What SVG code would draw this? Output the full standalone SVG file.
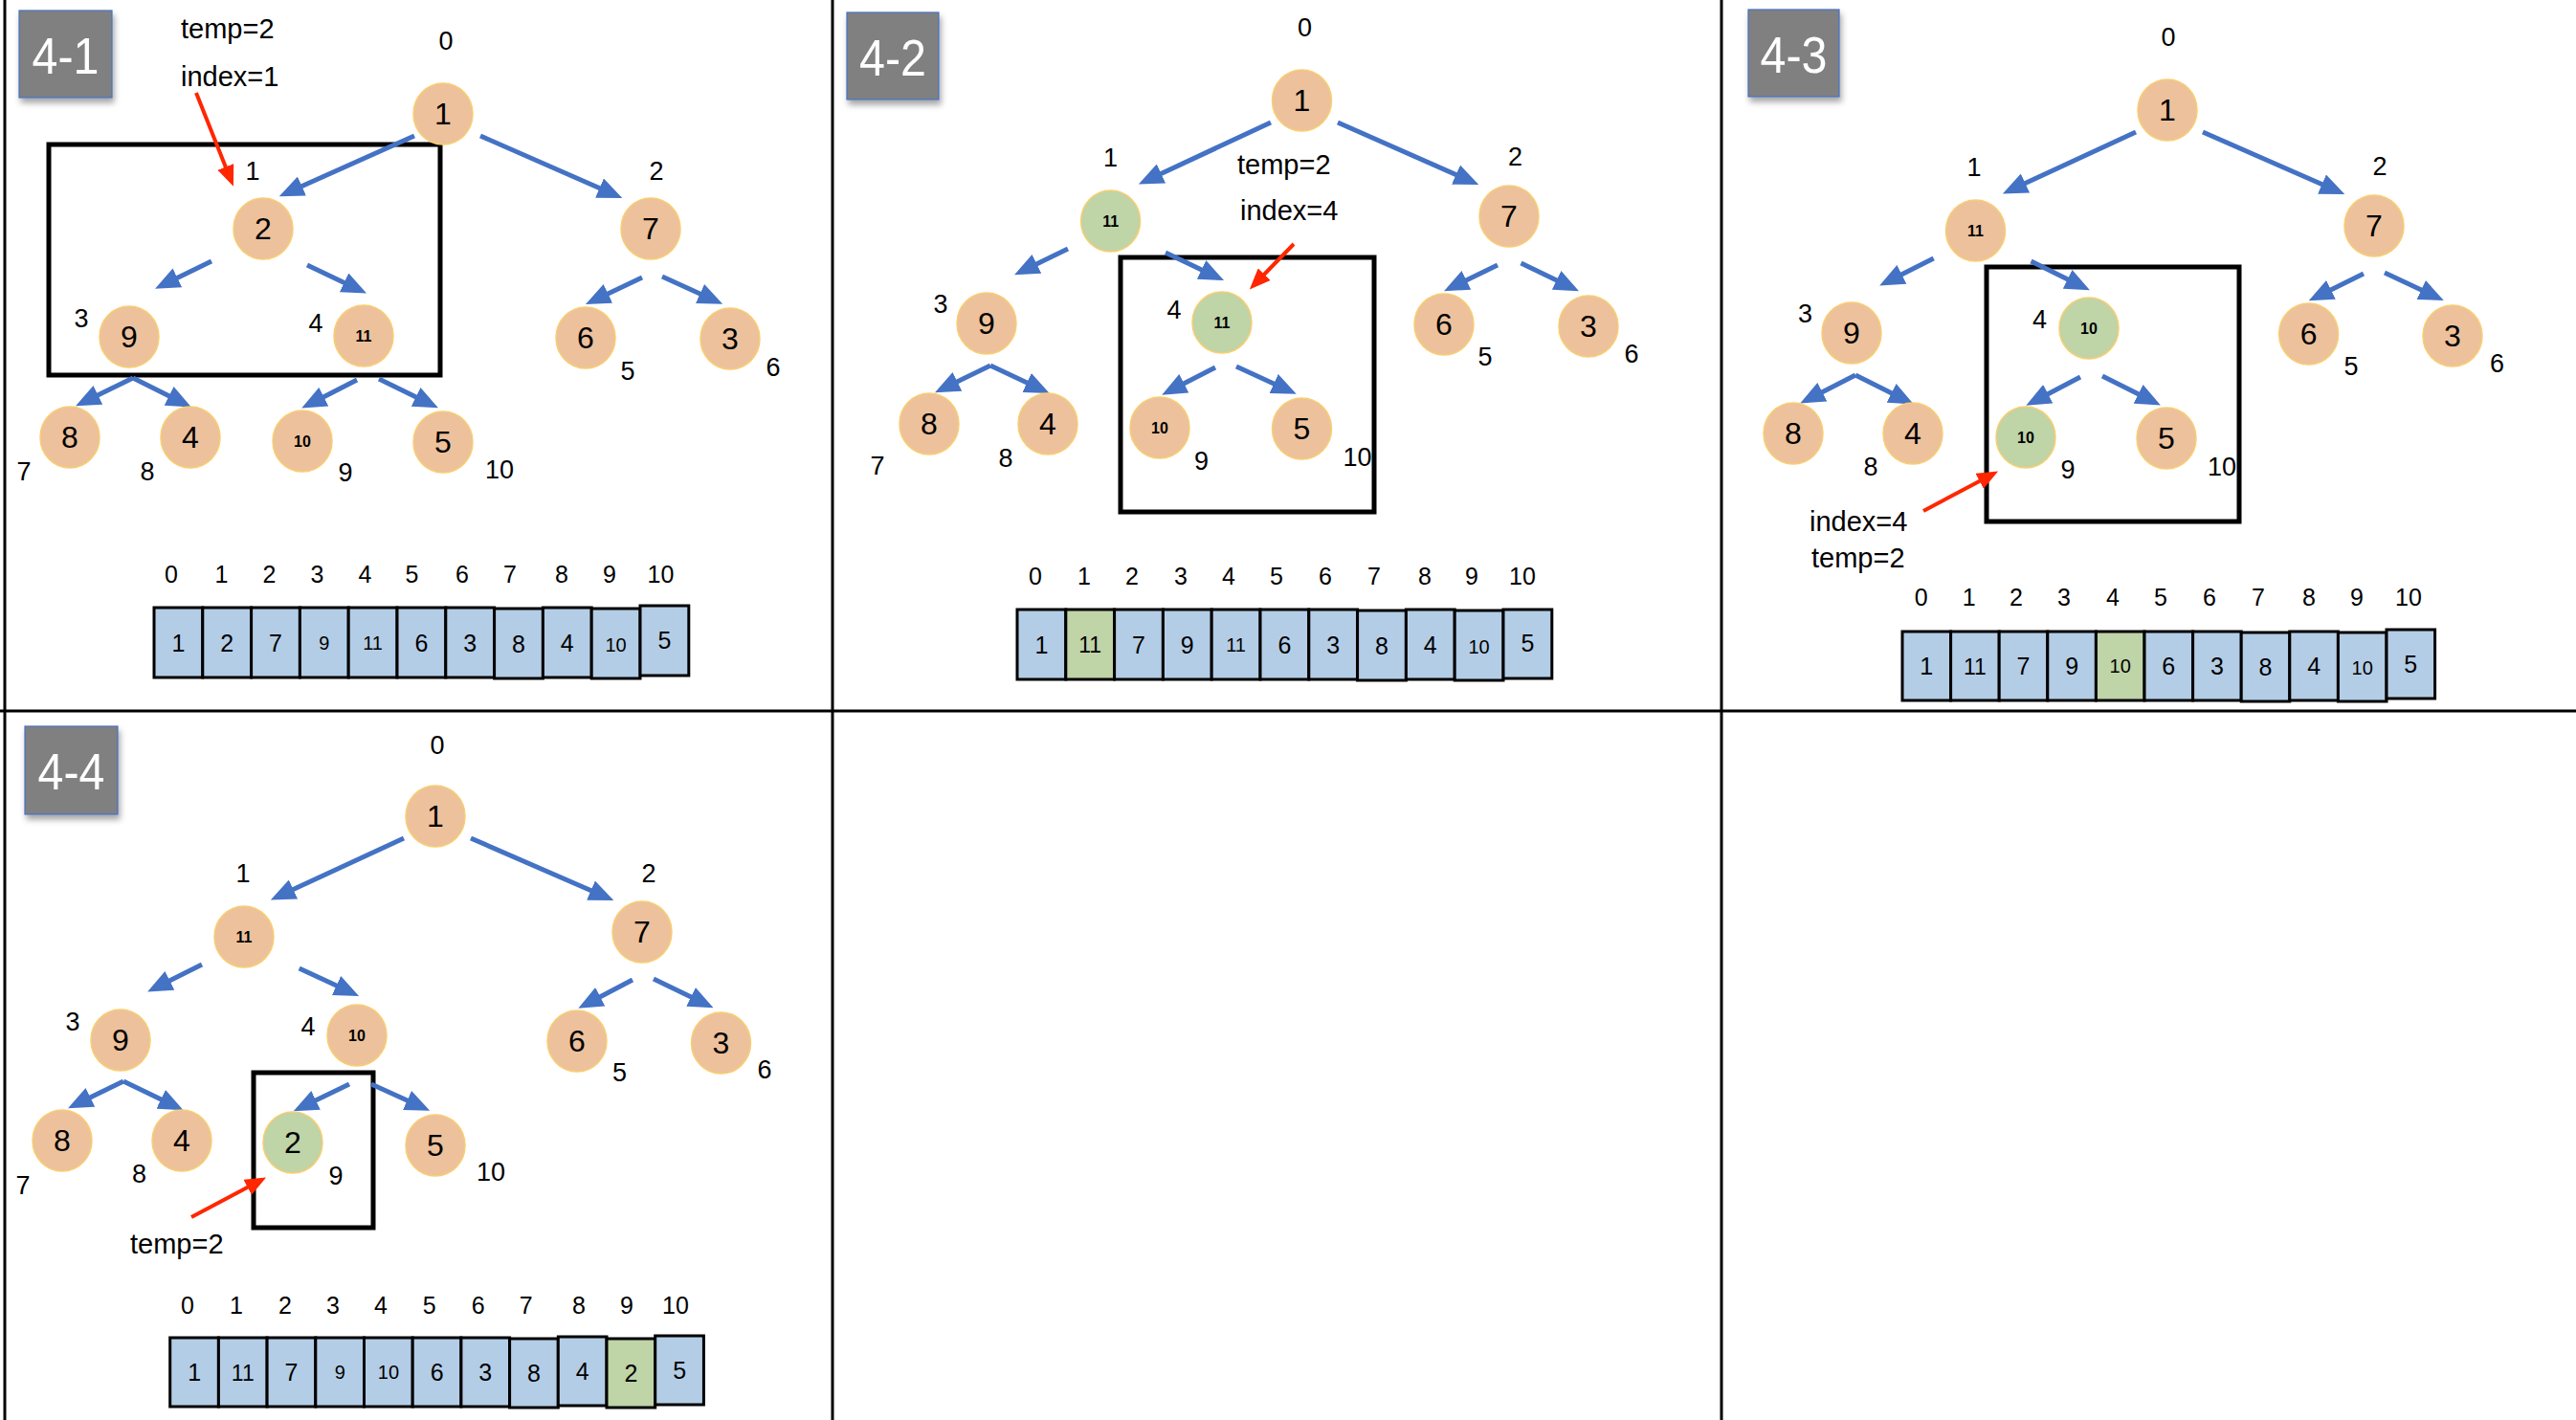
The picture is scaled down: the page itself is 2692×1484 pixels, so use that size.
<svg xmlns="http://www.w3.org/2000/svg" width="2692" height="1484" viewBox="0 0 2692 1484">
<style>
text{font-family:"Liberation Sans",Arial,Helvetica,sans-serif;fill:#000}
.grid line{stroke:#000;stroke-width:3}
.hl{fill:none;stroke:#000;stroke-width:5}
.tb rect{fill:#808080;stroke:#4472C4;stroke-width:1.2}
.tb text{fill:#fff;font-size:54px;text-anchor:middle}
.node ellipse{fill:#EDC19C;stroke:#F8CE72;stroke-width:1.5}
.node.g ellipse{fill:#BFD4A7}
.node text{text-anchor:middle;font-size:32px}
.node text.s{font-size:16px;font-weight:bold}
.lbl{font-size:27px;text-anchor:middle}
.note{font-size:29px}
.ai{font-size:25px;text-anchor:middle}
.cell rect{fill:#B4CDE6;stroke:#000;stroke-width:3}
.cell.g rect{fill:#BFD4A7}
.cell text{text-anchor:middle;font-size:25px}
.cell text.s{font-size:20px}
.cell text.m{font-size:23px}
.b{stroke:#4472C4;stroke-width:5;fill:none;marker-end:url(#ab)}
.r{stroke:#FF2600;stroke-width:4;fill:none;marker-end:url(#ar)}
</style>
<defs>
<marker id="ab" viewBox="0 0 26 22" refX="6" refY="11" markerWidth="26" markerHeight="22" markerUnits="userSpaceOnUse" orient="auto"><path d="M0,0 L26,11 L0,22 z" fill="#4472C4"/></marker>
<marker id="ar" viewBox="0 0 22 18" refX="6" refY="9" markerWidth="22" markerHeight="18" markerUnits="userSpaceOnUse" orient="auto"><path d="M0,0 L22,9 L0,18 z" fill="#FF2600"/></marker>
<filter id="sh" x="-20%" y="-20%" width="150%" height="150%"><feDropShadow dx="2" dy="5" stdDeviation="3" flood-color="#000" flood-opacity="0.35"/></filter>
</defs>
<rect x="0" y="0" width="2692" height="1484" fill="#fff"/>
<g class="grid">
<line x1="5" y1="0" x2="5" y2="1484"/>
<line x1="870" y1="0" x2="870" y2="1484"/>
<line x1="1799" y1="0" x2="1799" y2="1484"/>
<line x1="0" y1="743" x2="2692" y2="743"/>
</g>
<g id="titles">
<g class="tb" id="t41"><rect x="20" y="11" width="97" height="91" filter="url(#sh)"/><text x="68.5" y="77" textLength="70" lengthAdjust="spacingAndGlyphs">4-1</text></g>
<g class="tb" id="t42"><rect x="885" y="13" width="96" height="91" filter="url(#sh)"/><text x="933" y="79" textLength="70" lengthAdjust="spacingAndGlyphs">4-2</text></g>
<g class="tb" id="t43"><rect x="1827" y="10" width="95" height="91" filter="url(#sh)"/><text x="1874.5" y="76" textLength="70" lengthAdjust="spacingAndGlyphs">4-3</text></g>
<g class="tb" id="t44"><rect x="26" y="759" width="97" height="92" filter="url(#sh)"/><text x="74.5" y="825" textLength="70" lengthAdjust="spacingAndGlyphs">4-4</text></g>
</g>
<g id="highlights">
<rect class="hl" x="51" y="151" width="409" height="241"/>
<rect class="hl" x="1171" y="269" width="265" height="266"/>
<rect class="hl" x="2076" y="279" width="264" height="266"/>
<rect class="hl" x="265" y="1121" width="125" height="162"/>
</g>
<g id="connectors">
<path class="b" d="M433,142 L310,197"/>
<path class="b" d="M502,142 L632,199"/>
<path class="b" d="M221,273 L180,293"/>
<path class="b" d="M321,277 L365,298"/>
<path class="b" d="M671,290 L630,309.5"/>
<path class="b" d="M692,289 L737,309.5"/>
<path class="b" d="M139,395 L97,415.5"/>
<path class="b" d="M139,395 L182,416.5"/>
<path class="b" d="M373,397 L333,417.5"/>
<path class="b" d="M396,396 L440,417.5"/>

<path class="b" d="M1328,128 L1208,184"/>
<path class="b" d="M1398,128 L1527,185"/>
<path class="b" d="M1116,260 L1078,278.5"/>
<path class="b" d="M1218,264 L1261,284.5"/>
<path class="b" d="M1565,277 L1527,295.5"/>
<path class="b" d="M1589.5,275 L1632,295.5"/>
<path class="b" d="M1035,382 L995,401.5"/>
<path class="b" d="M1035,382 L1078.6,402.5"/>
<path class="b" d="M1270,384 L1232,403.5"/>
<path class="b" d="M1292,383 L1336.6,403.5"/>

<path class="b" d="M2232,138 L2111,194"/>
<path class="b" d="M2302,138 L2432,195"/>
<path class="b" d="M2020.7,270 L1982,289.5"/>
<path class="b" d="M2122.5,273 L2166,294.5"/>
<path class="b" d="M2470,286 L2430.6,305.5"/>
<path class="b" d="M2492,285 L2535.7,305.5"/>
<path class="b" d="M1939,392 L1899,412.5"/>
<path class="b" d="M1939,392 L1982,413.5"/>
<path class="b" d="M2174,394 L2135,414.5"/>
<path class="b" d="M2197,393 L2240,414.5"/>

<path class="b" d="M422,876 L301,932"/>
<path class="b" d="M492,876 L623,933"/>
<path class="b" d="M211,1008 L172,1027.5"/>
<path class="b" d="M312.7,1012 L357,1032.5"/>
<path class="b" d="M661,1024 L622,1044.5"/>
<path class="b" d="M683,1023 L727.5,1044.5"/>
<path class="b" d="M129,1130 L89,1149.5"/>
<path class="b" d="M129,1130 L173.6,1151.5"/>
<path class="b" d="M365,1133 L324.7,1152.5"/>
<path class="b" d="M388,1133 L431,1152.5"/>

<path class="r" d="M205,97 L238,180"/>
<path class="r" d="M1352,255 L1317,291"/>
<path class="r" d="M2010,534 L2074,500"/>
<path class="r" d="M200,1272 L264,1238"/>
</g>
<g id="nodes41">
<g class="node" id="n41-0"><ellipse cx="463" cy="119" rx="31" ry="32"/><text x="463" y="130">1</text></g>
<g class="node" id="n41-1"><ellipse cx="275" cy="239" rx="31" ry="32"/><text x="275" y="250">2</text></g>
<g class="node" id="n41-2"><ellipse cx="680" cy="239" rx="31" ry="32"/><text x="680" y="250">7</text></g>
<g class="node" id="n41-3"><ellipse cx="135" cy="352" rx="31" ry="32"/><text x="135" y="363">9</text></g>
<g class="node" id="n41-4"><ellipse cx="380" cy="351" rx="31" ry="32"/><text class="s" x="380" y="357">11</text></g>
<g class="node" id="n41-5"><ellipse cx="612" cy="353" rx="31" ry="32"/><text x="612" y="364">6</text></g>
<g class="node" id="n41-6"><ellipse cx="763" cy="354" rx="31" ry="32"/><text x="763" y="365">3</text></g>
<g class="node" id="n41-7"><ellipse cx="73" cy="457" rx="31" ry="32"/><text x="73" y="468">8</text></g>
<g class="node" id="n41-8"><ellipse cx="199" cy="457" rx="31" ry="32"/><text x="199" y="468">4</text></g>
<g class="node" id="n41-9"><ellipse cx="316" cy="461" rx="31" ry="32"/><text class="s" x="316" y="467">10</text></g>
<g class="node" id="n41-10"><ellipse cx="463" cy="462" rx="31" ry="32"/><text x="463" y="473">5</text></g>
</g>
<g id="nodes42">
<g class="node" id="n42-0"><ellipse cx="1360.5" cy="105" rx="31" ry="32"/><text x="1360.5" y="116">1</text></g>
<g class="node g" id="n42-1"><ellipse cx="1160.6" cy="231" rx="31" ry="32"/><text class="s" x="1160.6" y="237">11</text></g>
<g class="node" id="n42-2"><ellipse cx="1577" cy="226" rx="31" ry="32"/><text x="1577" y="237">7</text></g>
<g class="node" id="n42-3"><ellipse cx="1031" cy="338" rx="31" ry="32"/><text x="1031" y="349">9</text></g>
<g class="node g" id="n42-4"><ellipse cx="1277" cy="337" rx="31" ry="32"/><text class="s" x="1277" y="343">11</text></g>
<g class="node" id="n42-5"><ellipse cx="1509" cy="339" rx="31" ry="32"/><text x="1509" y="350">6</text></g>
<g class="node" id="n42-6"><ellipse cx="1660" cy="341" rx="31" ry="32"/><text x="1660" y="352">3</text></g>
<g class="node" id="n42-7"><ellipse cx="971" cy="443" rx="31" ry="32"/><text x="971" y="454">8</text></g>
<g class="node" id="n42-8"><ellipse cx="1095" cy="443" rx="31" ry="32"/><text x="1095" y="454">4</text></g>
<g class="node" id="n42-9"><ellipse cx="1212" cy="447" rx="31" ry="32"/><text class="s" x="1212" y="453">10</text></g>
<g class="node" id="n42-10"><ellipse cx="1360.5" cy="448" rx="31" ry="32"/><text x="1360.5" y="459">5</text></g>
</g>
<g id="nodes43">
<g class="node" id="n43-0"><ellipse cx="2265" cy="115" rx="31" ry="32"/><text x="2265" y="126">1</text></g>
<g class="node" id="n43-1"><ellipse cx="2064.5" cy="241" rx="31" ry="32"/><text class="s" x="2064.5" y="247">11</text></g>
<g class="node" id="n43-2"><ellipse cx="2481" cy="236" rx="31" ry="32"/><text x="2481" y="247">7</text></g>
<g class="node" id="n43-3"><ellipse cx="1935" cy="348" rx="31" ry="32"/><text x="1935" y="359">9</text></g>
<g class="node g" id="n43-4"><ellipse cx="2183" cy="343" rx="31" ry="32"/><text class="s" x="2183" y="349">10</text></g>
<g class="node" id="n43-5"><ellipse cx="2412.6" cy="349" rx="31" ry="32"/><text x="2412.6" y="360">6</text></g>
<g class="node" id="n43-6"><ellipse cx="2563" cy="351" rx="31" ry="32"/><text x="2563" y="362">3</text></g>
<g class="node" id="n43-7"><ellipse cx="1874" cy="453" rx="31" ry="32"/><text x="1874" y="464">8</text></g>
<g class="node" id="n43-8"><ellipse cx="1999" cy="453" rx="31" ry="32"/><text x="1999" y="464">4</text></g>
<g class="node g" id="n43-9"><ellipse cx="2117" cy="457" rx="31" ry="32"/><text class="s" x="2117" y="463">10</text></g>
<g class="node" id="n43-10"><ellipse cx="2264" cy="458" rx="31" ry="32"/><text x="2264" y="469">5</text></g>
</g>
<g id="nodes44">
<g class="node" id="n44-0"><ellipse cx="455" cy="853" rx="31" ry="32"/><text x="455" y="864">1</text></g>
<g class="node" id="n44-1"><ellipse cx="255" cy="979" rx="31" ry="32"/><text class="s" x="255" y="985">11</text></g>
<g class="node" id="n44-2"><ellipse cx="671" cy="974" rx="31" ry="32"/><text x="671" y="985">7</text></g>
<g class="node" id="n44-3"><ellipse cx="126" cy="1087" rx="31" ry="32"/><text x="126" y="1098">9</text></g>
<g class="node" id="n44-4"><ellipse cx="373" cy="1082" rx="31" ry="32"/><text class="s" x="373" y="1088">10</text></g>
<g class="node" id="n44-5"><ellipse cx="603" cy="1088" rx="31" ry="32"/><text x="603" y="1099">6</text></g>
<g class="node" id="n44-6"><ellipse cx="753.5" cy="1090" rx="31" ry="32"/><text x="753.5" y="1101">3</text></g>
<g class="node" id="n44-7"><ellipse cx="65" cy="1192" rx="31" ry="32"/><text x="65" y="1203">8</text></g>
<g class="node" id="n44-8"><ellipse cx="190" cy="1192" rx="31" ry="32"/><text x="190" y="1203">4</text></g>
<g class="node g" id="n44-9"><ellipse cx="306" cy="1194" rx="31" ry="32"/><text x="306" y="1205">2</text></g>
<g class="node" id="n44-10"><ellipse cx="455" cy="1197" rx="31" ry="32"/><text x="455" y="1208">5</text></g>
</g>
<g id="indexlabels">
<text class="lbl" x="466" y="52">0</text><text class="lbl" x="264" y="188">1</text><text class="lbl" x="686" y="188">2</text><text class="lbl" x="85" y="342">3</text><text class="lbl" x="330" y="347">4</text><text class="lbl" x="656" y="397">5</text><text class="lbl" x="808" y="393">6</text><text class="lbl" x="25" y="502">7</text><text class="lbl" x="154" y="502">8</text><text class="lbl" x="361" y="503">9</text><text class="lbl" x="522" y="500">10</text>
<text class="lbl" x="1363.5" y="38">0</text><text class="lbl" x="1160.6" y="174">1</text><text class="lbl" x="1583.5" y="173">2</text><text class="lbl" x="983" y="327">3</text><text class="lbl" x="1227" y="333">4</text><text class="lbl" x="1552" y="382">5</text><text class="lbl" x="1705" y="379">6</text><text class="lbl" x="917" y="496">7</text><text class="lbl" x="1051" y="488">8</text><text class="lbl" x="1255.5" y="491">9</text><text class="lbl" x="1418.6" y="487">10</text>
<text class="lbl" x="2266" y="48">0</text><text class="lbl" x="2063" y="184">1</text><text class="lbl" x="2487" y="183">2</text><text class="lbl" x="1886.5" y="337">3</text><text class="lbl" x="2131.6" y="343">4</text><text class="lbl" x="2457" y="392">5</text><text class="lbl" x="2609.4" y="389">6</text><text class="lbl" x="1955" y="497">8</text><text class="lbl" x="2161" y="500">9</text><text class="lbl" x="2322" y="497">10</text>
<text class="lbl" x="457" y="788">0</text><text class="lbl" x="254" y="922">1</text><text class="lbl" x="678" y="922">2</text><text class="lbl" x="76" y="1077">3</text><text class="lbl" x="322" y="1082">4</text><text class="lbl" x="647.5" y="1130">5</text><text class="lbl" x="799" y="1127">6</text><text class="lbl" x="24" y="1248">7</text><text class="lbl" x="145.5" y="1236">8</text><text class="lbl" x="351" y="1238">9</text><text class="lbl" x="513" y="1234">10</text>
</g>
<g id="notes">
<text class="note" x="189" y="40">temp=2</text>
<text class="note" x="189" y="89.5">index=1</text>
<text class="note" x="1293" y="182">temp=2</text>
<text class="note" x="1296" y="230">index=4</text>
<text class="note" x="1891" y="555">index=4</text>
<text class="note" x="1893" y="593">temp=2</text>
<text class="note" x="136" y="1310">temp=2</text>
</g>
<g id="array41">
<g class="ai"><text class="ai" x="179" y="609">0</text><text class="ai" x="231.5" y="609">1</text><text class="ai" x="281.5" y="609">2</text><text class="ai" x="331.5" y="609">3</text><text class="ai" x="381.5" y="609">4</text><text class="ai" x="430.5" y="609">5</text><text class="ai" x="483" y="609">6</text><text class="ai" x="533" y="609">7</text><text class="ai" x="587" y="609">8</text><text class="ai" x="637" y="609">9</text><text class="ai" x="690.5" y="609">10</text></g>
<g class="cell"><rect x="161" y="635" width="50.8" height="73"/><text x="186.4" y="680.5">1</text></g>
<g class="cell"><rect x="211.8" y="635" width="50.8" height="73"/><text x="237.2" y="680.5">2</text></g>
<g class="cell"><rect x="262.6" y="635" width="50.8" height="73"/><text x="288" y="680.5">7</text></g>
<g class="cell"><rect x="313.4" y="635" width="50.8" height="73"/><text class="s" x="338.8" y="678.5">9</text></g>
<g class="cell"><rect x="364.2" y="635" width="50.8" height="73"/><text class="s" x="389.6" y="678.5">11</text></g>
<g class="cell"><rect x="415" y="635" width="50.8" height="73"/><text x="440.4" y="680.5">6</text></g>
<g class="cell"><rect x="465.8" y="635" width="50.8" height="73"/><text x="491.2" y="680.5">3</text></g>
<g class="cell"><rect x="516.6" y="636" width="50.8" height="73"/><text x="542" y="682">8</text></g>
<g class="cell"><rect x="567.4" y="635" width="50.8" height="73"/><text x="592.8" y="680.5">4</text></g>
<g class="cell"><rect x="618.2" y="636" width="50.8" height="73"/><text class="s" x="643.6" y="681">10</text></g>
<g class="cell"><rect x="669" y="633" width="50.8" height="73"/><text x="694.4" y="678">5</text></g>
</g>
<g id="array42">
<text class="ai" x="1082" y="611">0</text><text class="ai" x="1133" y="611">1</text><text class="ai" x="1183" y="611">2</text><text class="ai" x="1234" y="611">3</text><text class="ai" x="1284" y="611">4</text><text class="ai" x="1334" y="611">5</text><text class="ai" x="1385" y="611">6</text><text class="ai" x="1436" y="611">7</text><text class="ai" x="1489" y="611">8</text><text class="ai" x="1538" y="611">9</text><text class="ai" x="1591" y="611">10</text>
<g class="cell"><rect x="1063" y="637" width="50.8" height="73"/><text x="1088.4" y="682.5">1</text></g>
<g class="cell g"><rect x="1113.8" y="637" width="50.8" height="73"/><text class="m" x="1139.2" y="682">11</text></g>
<g class="cell"><rect x="1164.6" y="637" width="50.8" height="73"/><text x="1190" y="682.5">7</text></g>
<g class="cell"><rect x="1215.4" y="637" width="50.8" height="73"/><text x="1240.8" y="682.5">9</text></g>
<g class="cell"><rect x="1266.2" y="637" width="50.8" height="73"/><text class="s" x="1291.6" y="680.5">11</text></g>
<g class="cell"><rect x="1317" y="637" width="50.8" height="73"/><text x="1342.4" y="682.5">6</text></g>
<g class="cell"><rect x="1367.8" y="637" width="50.8" height="73"/><text x="1393.2" y="682.5">3</text></g>
<g class="cell"><rect x="1418.6" y="638" width="50.8" height="73"/><text x="1444" y="684">8</text></g>
<g class="cell"><rect x="1469.4" y="637" width="50.8" height="73"/><text x="1494.8" y="682.5">4</text></g>
<g class="cell"><rect x="1520.2" y="638" width="50.8" height="73"/><text class="s" x="1545.6" y="683">10</text></g>
<g class="cell"><rect x="1571" y="637" width="50.8" height="72"/><text x="1596.4" y="681">5</text></g>
</g>
<g id="array43">
<text class="ai" x="2007.6" y="633">0</text><text class="ai" x="2057.7" y="633">1</text><text class="ai" x="2107" y="633">2</text><text class="ai" x="2157" y="633">3</text><text class="ai" x="2208" y="633">4</text><text class="ai" x="2258" y="633">5</text><text class="ai" x="2309" y="633">6</text><text class="ai" x="2360" y="633">7</text><text class="ai" x="2413" y="633">8</text><text class="ai" x="2463" y="633">9</text><text class="ai" x="2517" y="633">10</text>
<g class="cell"><rect x="1988" y="660" width="50.6" height="72"/><text x="2013.3" y="705">1</text></g>
<g class="cell"><rect x="2038.6" y="660" width="50.6" height="72"/><text class="m" x="2063.9" y="704.5">11</text></g>
<g class="cell"><rect x="2089.2" y="660" width="50.6" height="72"/><text x="2114.5" y="705">7</text></g>
<g class="cell"><rect x="2139.8" y="660" width="50.6" height="72"/><text x="2165.1" y="705">9</text></g>
<g class="cell g"><rect x="2190.4" y="660" width="50.6" height="72"/><text class="s" x="2215.7" y="703">10</text></g>
<g class="cell"><rect x="2241" y="660" width="50.6" height="72"/><text x="2266.3" y="705">6</text></g>
<g class="cell"><rect x="2291.6" y="660" width="50.6" height="72"/><text x="2316.9" y="705">3</text></g>
<g class="cell"><rect x="2342.2" y="661" width="50.6" height="72"/><text x="2367.5" y="706">8</text></g>
<g class="cell"><rect x="2392.8" y="660" width="50.6" height="72"/><text x="2418.1" y="705">4</text></g>
<g class="cell"><rect x="2443.4" y="661" width="50.6" height="72"/><text class="s" x="2468.7" y="705">10</text></g>
<g class="cell"><rect x="2494" y="658" width="50.6" height="72"/><text x="2519.3" y="703">5</text></g>
</g>
<g id="array44">
<text class="ai" x="196" y="1373">0</text><text class="ai" x="247" y="1373">1</text><text class="ai" x="298" y="1373">2</text><text class="ai" x="348" y="1373">3</text><text class="ai" x="398" y="1373">4</text><text class="ai" x="448.6" y="1373">5</text><text class="ai" x="499.7" y="1373">6</text><text class="ai" x="549.7" y="1373">7</text><text class="ai" x="605" y="1373">8</text><text class="ai" x="655" y="1373">9</text><text class="ai" x="706" y="1373">10</text>
<g class="cell"><rect x="177.7" y="1398" width="50.7" height="72"/><text x="203.1" y="1443">1</text></g>
<g class="cell"><rect x="228.4" y="1398" width="50.7" height="72"/><text class="m" x="253.8" y="1442.5">11</text></g>
<g class="cell"><rect x="279.1" y="1398" width="50.7" height="72"/><text x="304.5" y="1443">7</text></g>
<g class="cell"><rect x="329.8" y="1398" width="50.7" height="72"/><text class="s" x="355.2" y="1441">9</text></g>
<g class="cell"><rect x="380.5" y="1398" width="50.7" height="72"/><text class="s" x="405.9" y="1441">10</text></g>
<g class="cell"><rect x="431.2" y="1398" width="50.7" height="72"/><text x="456.6" y="1443">6</text></g>
<g class="cell"><rect x="481.9" y="1398" width="50.7" height="72"/><text x="507.3" y="1443">3</text></g>
<g class="cell"><rect x="532.6" y="1399" width="50.7" height="72"/><text x="558" y="1444">8</text></g>
<g class="cell"><rect x="583.3" y="1397" width="50.7" height="72"/><text x="608.7" y="1442">4</text></g>
<g class="cell g"><rect x="634" y="1399" width="50.7" height="72"/><text x="659.4" y="1444">2</text></g>
<g class="cell"><rect x="684.7" y="1396" width="50.7" height="72"/><text x="710.1" y="1441">5</text></g>
</g>
</svg>
